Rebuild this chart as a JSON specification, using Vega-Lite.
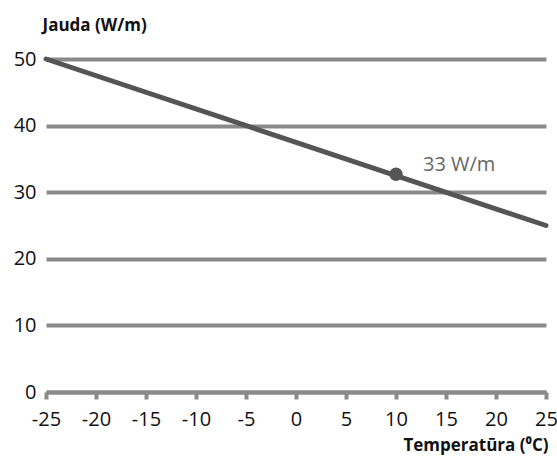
{
  "$schema": "https://vega.github.io/schema/vega-lite/v6.json",
  "width": 500,
  "height": 333,
  "autosize": {"type": "none"},
  "padding": {"left": 46, "top": 59, "right": 11, "bottom": 65},
  "background": "white",
  "config": {
    "view": {"stroke": null},
    "font": "Open Sans"
  },
  "datasets": {
    "line": [
      {"temp": -25, "power": 50},
      {"temp": 25, "power": 25}
    ],
    "pt": [
      {"temp": 10, "power": 32.7, "label": "33 W/m"}
    ]
  },
  "layer": [
    {
      "data": {"name": "line"},
      "mark": {"type": "line", "color": "#555555", "strokeWidth": 5, "strokeCap": "round"},
      "encoding": {
        "x": {
          "field": "temp", "type": "quantitative",
          "scale": {"domain": [-25, 25], "nice": false, "zero": false},
          "axis": {
            "values": [-25, -20, -15, -10, -5, 0, 5, 10, 15, 20, 25],
            "labelExpr": "datum.value < 0 ? '-' + abs(datum.value) : '' + datum.value",
            "grid": false,
            "domain": true, "domainColor": "#8a8a8a", "domainWidth": 4, "domainCap": "butt",
            "ticks": true, "tickColor": "#8a8a8a", "tickWidth": 4, "tickSize": 7,
            "labelFont": "Open Sans", "labelFontSize": 20, "labelColor": "#111111",
            "labelBaseline": "alphabetic", "labelPadding": 26,
            "labelFlush": false,
            "title": "Temperatūra (⁰C)",
            "titleFont": "Open Sans", "titleFontSize": 17, "titleFontWeight": "bold", "titleColor": "#111111",
            "titleX": 502, "titleY": 53, "titleAlign": "right", "titleBaseline": "middle", "titleAnchor": null
          }
        },
        "y": {
          "field": "power", "type": "quantitative",
          "scale": {"domain": [0, 50], "nice": false},
          "axis": {
            "values": [0, 10, 20, 30, 40, 50],
            "grid": true, "gridColor": "#8a8a8a", "gridWidth": 4, "gridCap": "butt", "gridOpacity": 1,
            "domain": false, "ticks": false,
            "labelFont": "Open Sans", "labelFontSize": 20, "labelColor": "#111111", "labelPadding": 10,
            "title": "Jauda (W/m)",
            "titleFont": "Open Sans", "titleFontSize": 17, "titleFontWeight": "bold", "titleColor": "#111111",
            "titleAngle": 0, "titleX": -4, "titleY": -34, "titleAlign": "left", "titleBaseline": "middle", "titleAnchor": null
          }
        }
      }
    },
    {
      "data": {"name": "pt"},
      "mark": {"type": "point", "filled": true, "color": "#555555", "size": 180, "opacity": 1},
      "encoding": {
        "x": {"field": "temp", "type": "quantitative"},
        "y": {"field": "power", "type": "quantitative"}
      }
    },
    {
      "data": {"name": "pt"},
      "mark": {"type": "text", "color": "#666666", "fontSize": 20, "font": "Open Sans", "align": "left", "baseline": "middle", "dx": 27, "dy": -9},
      "encoding": {
        "x": {"field": "temp", "type": "quantitative"},
        "y": {"field": "power", "type": "quantitative"},
        "text": {"field": "label"}
      }
    }
  ]
}
